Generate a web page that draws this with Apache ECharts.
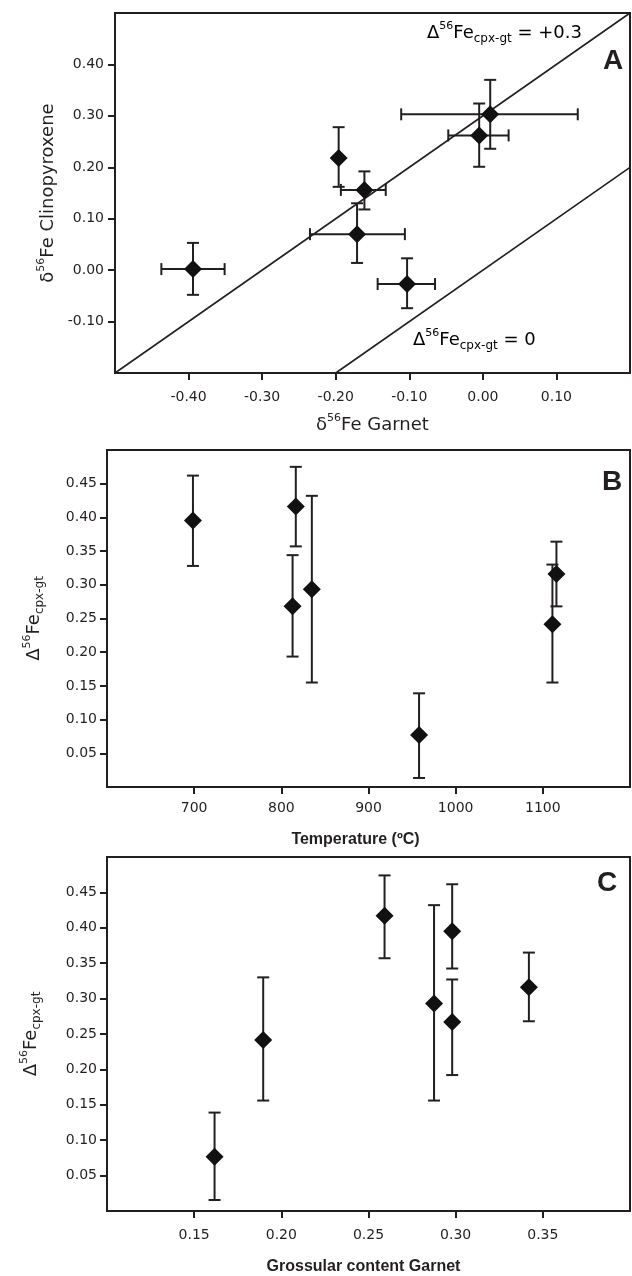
<!DOCTYPE html>
<html><head><meta charset="utf-8">
<script src="https://cdn.jsdelivr.net/npm/echarts@6/dist/echarts.min.js"></script>
<style>html,body{margin:0;padding:0;background:#fff}#c{width:632px;height:1276px}</style>
</head><body><div id="c"></div>
<script>
// ---------- Panel A: d56Fe garnet vs d56Fe clinopyroxene ----------
const garnetA   = [-0.394, -0.196, -0.161, -0.171, -0.103, -0.005, 0.010];
const garnetLoA = [-0.437, null,   -0.193, -0.235, -0.143, -0.047, -0.111];
const garnetHiA = [-0.351, null,   -0.132, -0.106, -0.065,  0.035,  0.129];
const cpxA      = [ 0.002,  0.218,  0.156,  0.070, -0.027,  0.262,  0.303];
const cpxLoA    = [-0.048,  0.162,  0.118,  0.014, -0.074,  0.201,  0.236];
const cpxHiA    = [ 0.053,  0.278,  0.192,  0.130,  0.023,  0.324,  0.370];
const lineDelta03 = [[-0.5, -0.2], [0.2, 0.5]];
const lineDelta0  = [[-0.2, -0.2], [0.2, 0.2]];
const xTicksA = [-0.4, -0.3, -0.2, -0.1, 0, 0.1];
const yTicksA = [-0.1, 0, 0.1, 0.2, 0.3, 0.4];

// ---------- Panel B: temperature vs D56Fe cpx-gt ----------
const tempB    = [698.6, 816.6, 812.9, 835, 958, 1111, 1115.6];
const deltaB   = [0.3955, 0.416, 0.268, 0.2935, 0.077, 0.2415, 0.316];
const deltaLoB = [0.328, 0.357, 0.1935, 0.155, 0.0134, 0.155, 0.268];
const deltaHiB = [0.462, 0.475, 0.344, 0.432, 0.139, 0.330, 0.364];
const xTicksB  = [700, 800, 900, 1000, 1100];
const yTicksBC = [0.05, 0.10, 0.15, 0.20, 0.25, 0.30, 0.35, 0.40, 0.45];

// ---------- Panel C: grossular content vs D56Fe cpx-gt ----------
const grossC   = [0.1617, 0.1896, 0.2592, 0.2876, 0.298, 0.298, 0.342];
const deltaC   = [0.0766, 0.2416, 0.417, 0.293, 0.3953, 0.2668, 0.316];
const deltaLoC = [0.0155, 0.156, 0.357, 0.156, 0.3425, 0.192, 0.268];
const deltaHiC = [0.139, 0.330, 0.474, 0.432, 0.4615, 0.327, 0.365];
const xTicksC  = [0.15, 0.20, 0.25, 0.30, 0.35];

const INK = '#231f20';
const TICKFONT = 'DejaVu Sans';
const fmt2 = v => (Math.abs(v) < 1e-9 ? 0 : v).toFixed(2);

const richBase = {
  n:   {fontSize: 18, fontFamily: 'DejaVu Sans', color: INK, lineHeight: 24},
  sup: {fontSize: 11, fontFamily: 'DejaVu Sans', color: INK, lineHeight: 11, verticalAlign: 'top'},
  sub: {fontSize: 12, fontFamily: 'DejaVu Sans', color: INK, lineHeight: 12, verticalAlign: 'bottom'}
};

function makeX(gi, min, max, ticks, fmt, name, nameGap, rich, nameStyle, margin) {
  return {
    type: 'value', gridIndex: gi, min: min, max: max,
    axisLine: {show: true, onZero: false, lineStyle: {color: INK, width: 2}},
    axisTick: {show: true, length: 7, customValues: ticks, lineStyle: {color: INK, width: 2}},
    axisLabel: {customValues: ticks, formatter: fmt, fontSize: 14, fontFamily: TICKFONT, color: INK, margin: margin},
    splitLine: {show: false},
    name: name, nameLocation: 'middle', nameGap: nameGap,
    nameTextStyle: Object.assign({color: INK, rich: rich}, nameStyle || {})
  };
}
function makeY(gi, min, max, ticks, fmt, name, nameGap, margin) {
  return {
    type: 'value', gridIndex: gi, min: min, max: max,
    axisLine: {show: true, onZero: false, lineStyle: {color: INK, width: 2}},
    axisTick: {show: true, length: 7, customValues: ticks, lineStyle: {color: INK, width: 2}},
    axisLabel: {customValues: ticks, formatter: fmt, fontSize: 14, fontFamily: TICKFONT, color: INK, margin: margin},
    splitLine: {show: false},
    name: name, nameLocation: 'middle', nameGap: nameGap, nameRotate: 90,
    nameTextStyle: {color: INK, rich: richBase}
  };
}

function errSeries(gi, xs, ys, xlo, xhi, ylo, yhi) {
  return {
    type: 'custom', xAxisIndex: gi, yAxisIndex: gi, z: 3, silent: true,
    data: xs.map((x, i) => [x, ys[i]]),
    renderItem: function (params, api) {
      const i = params.dataIndex;
      const cap = 6;
      const children = [];
      const st = {stroke: INK, lineWidth: 2};
      if (ylo && ylo[i] != null) {
        const a = api.coord([xs[i], ylo[i]]);
        const b = api.coord([xs[i], yhi[i]]);
        children.push({type: 'line', shape: {x1: a[0], y1: a[1], x2: b[0], y2: b[1]}, style: st});
        children.push({type: 'line', shape: {x1: a[0] - cap, y1: a[1], x2: a[0] + cap, y2: a[1]}, style: st});
        children.push({type: 'line', shape: {x1: b[0] - cap, y1: b[1], x2: b[0] + cap, y2: b[1]}, style: st});
      }
      if (xlo && xlo[i] != null) {
        const a = api.coord([xlo[i], ys[i]]);
        const b = api.coord([xhi[i], ys[i]]);
        children.push({type: 'line', shape: {x1: a[0], y1: a[1], x2: b[0], y2: b[1]}, style: st});
        children.push({type: 'line', shape: {x1: a[0], y1: a[1] - cap, x2: a[0], y2: a[1] + cap}, style: st});
        children.push({type: 'line', shape: {x1: b[0], y1: b[1] - cap, x2: b[0], y2: b[1] + cap}, style: st});
      }
      return {type: 'group', children: children};
    }
  };
}
function dots(gi, xs, ys) {
  return {
    type: 'scatter', xAxisIndex: gi, yAxisIndex: gi, z: 4, silent: true,
    symbol: 'diamond', symbolSize: [18, 18],
    itemStyle: {color: '#111', opacity: 1},
    data: xs.map((x, i) => [x, ys[i]])
  };
}
function refLine(gi, pts) {
  return {
    type: 'line', xAxisIndex: gi, yAxisIndex: gi, z: 2, silent: true,
    showSymbol: false, symbol: 'none', data: pts,
    lineStyle: {color: INK, width: 1.6}
  };
}

const chart = echarts.init(document.getElementById('c'), null, {renderer: 'canvas'});
const gridStyle = {show: true, borderColor: INK, borderWidth: 2, backgroundColor: 'transparent', containLabel: false};
const boldTitle = {fontSize: 16, fontWeight: 'bold', fontFamily: 'Liberation Sans', color: INK};

chart.setOption({
  animation: false,
  backgroundColor: '#fff',
  grid: [
    Object.assign({left: 115, right: 2, top: 13, height: 360}, gridStyle),
    Object.assign({left: 107, right: 2, top: 450, height: 337}, gridStyle),
    Object.assign({left: 107, right: 2, top: 857, height: 356}, gridStyle)
  ],
  xAxis: [
    makeX(0, -0.5, 0.2, xTicksA, fmt2, '{n|δ}{sup|56}{n|Fe Garnet}', 40, richBase, null, 17),
    makeX(1, 600, 1200, xTicksB, v => String(v), 'Temperature (ºC)', 45, null, Object.assign({padding: [0, 26, 0, 0]}, boldTitle), 14),
    makeX(2, 0.1, 0.4, xTicksC, fmt2, 'Grossular content Garnet', 48, null, Object.assign({padding: [0, 10, 0, 0]}, boldTitle), 17)
  ],
  yAxis: [
    makeY(0, -0.2, 0.5, yTicksA, fmt2, '{n|δ}{sup|56}{n|Fe Clinopyroxene}', 45, 11),
    makeY(1, 0, 0.5, yTicksBC, fmt2, '{n|Δ}{sup|56}{n|Fe}{sub|cpx-gt}', 61, 10),
    makeY(2, 0, 0.5, yTicksBC, fmt2, '{n|Δ}{sup|56}{n|Fe}{sub|cpx-gt}', 64, 10)
  ],
  series: [
    refLine(0, lineDelta03),
    refLine(0, lineDelta0),
    errSeries(0, garnetA, cpxA, garnetLoA, garnetHiA, cpxLoA, cpxHiA),
    dots(0, garnetA, cpxA),
    errSeries(1, tempB, deltaB, null, null, deltaLoB, deltaHiB),
    dots(1, tempB, deltaB),
    errSeries(2, grossC, deltaC, null, null, deltaLoC, deltaHiC),
    dots(2, grossC, deltaC)
  ],
  graphic: [
    {type: 'text', x: 427, y: 21, z: 10, style: {text: '{n|Δ}{sup|56}{n|Fe}{sub|cpx-gt}{n| = +0.3}', rich: richBase, verticalAlign: 'top', align: 'left'}},
    {type: 'text', x: 413, y: 328, z: 10, style: {text: '{n|Δ}{sup|56}{n|Fe}{sub|cpx-gt}{n| = 0}', rich: richBase, verticalAlign: 'top', align: 'left'}},
    {type: 'text', x: 613, y: 61, z: 10, style: {text: 'A', font: 'bold 28px "Liberation Sans"', fill: INK, align: 'center', verticalAlign: 'middle'}},
    {type: 'text', x: 612, y: 482, z: 10, style: {text: 'B', font: 'bold 28px "Liberation Sans"', fill: INK, align: 'center', verticalAlign: 'middle'}},
    {type: 'text', x: 607, y: 883, z: 10, style: {text: 'C', font: 'bold 28px "Liberation Sans"', fill: INK, align: 'center', verticalAlign: 'middle'}}
  ]
});
</script>
</body></html>
